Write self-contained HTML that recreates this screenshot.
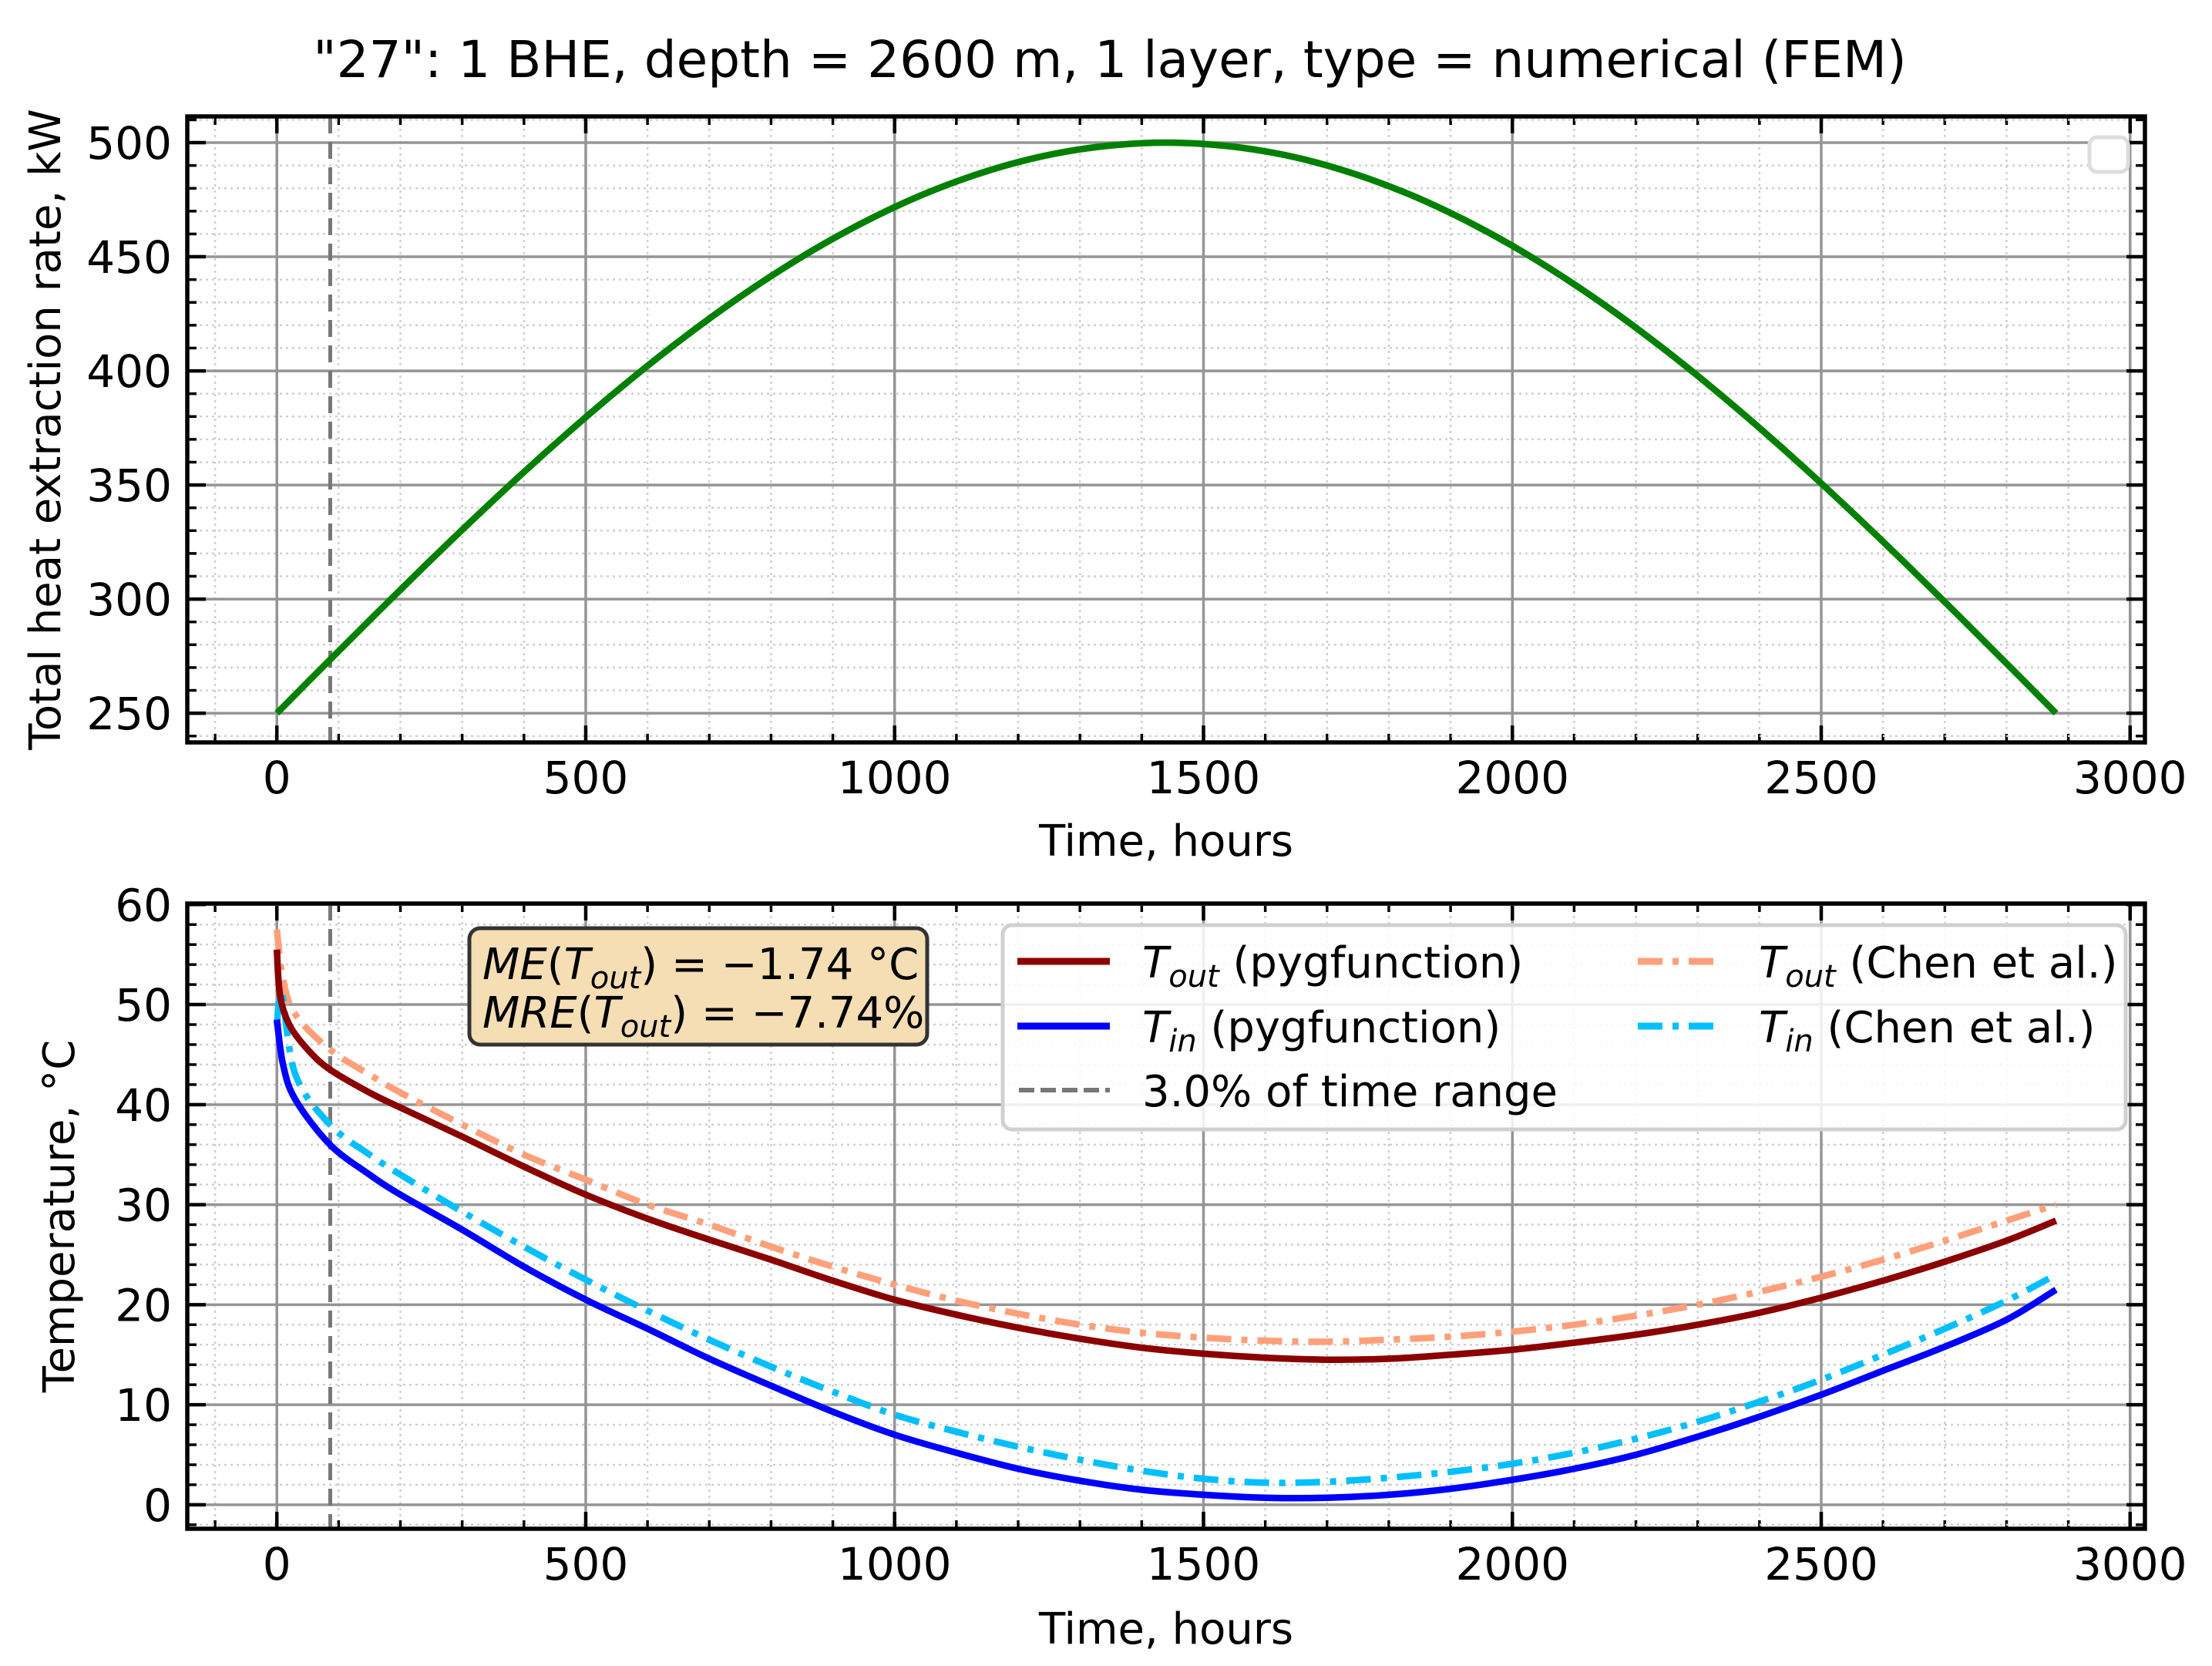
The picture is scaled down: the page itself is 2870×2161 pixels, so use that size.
<!DOCTYPE html>
<html><head><meta charset="utf-8"><style>
html,body{margin:0;padding:0;background:#fff;}
svg{display:block;font-family:"DejaVu Sans","Liberation Sans",sans-serif;}
</style></head><body>
<svg id="fig" width="2870" height="2161" viewBox="0 0 2870 2161" xmlns="http://www.w3.org/2000/svg">
<rect width="2870" height="2161" fill="#fff"/>
<text x="1440" y="100" font-size="66" text-anchor="middle">"27": 1 BHE, depth = 2600 m, 1 layer, type = numerical (FEM)</text>
<g id="top"></g>
<g id="bot"></g>
</svg>
<script>
const NS='http://www.w3.org/2000/svg';
// ---- data ----
const qTimes=[0,80,160,240,320,400,480,560,640,720,800,880,960,1040,1120,1200,1280,1360,1440,1520,1600,1680,1760,1840,1920,2000,2080,2160,2240,2320,2400,2480,2560,2640,2720,2800,2880];
const qValues=[250,271.8,293.4,314.7,335.5,355.7,375,393.4,410.7,426.8,441.5,454.8,466.5,476.6,484.9,491.5,496.2,499.0,500,499.0,496.2,491.5,484.9,476.6,466.5,454.8,441.5,426.8,410.7,393.4,375,355.7,335.5,314.7,293.4,271.8,250];
const toutTimes=[0,5,20,50,86,150,200,300,400,500,600,700,800,900,1000,1100,1200,1300,1400,1500,1600,1700,1800,1900,2000,2100,2200,2300,2400,2500,2600,2700,2800,2880];
const toutPyg=[55.5,51,48,45.5,43.5,41.2,39.7,36.8,33.8,31,28.6,26.5,24.5,22.4,20.5,19,17.7,16.6,15.7,15.1,14.7,14.5,14.6,15,15.5,16.2,17,18,19.2,20.7,22.4,24.3,26.4,28.4];
const toutChenTimes=[0,10,30,86,150,200,300,400,500,600,700,800,900,1000,1100,1200,1300,1400,1500,1600,1700,1800,1900,2000,2100,2200,2300,2400,2500,2600,2700,2800,2880];
const toutChen=[57.5,52.5,49,45.5,43,41.2,38,35,32.5,30,28,25.8,23.8,22,20.4,19.1,18,17.2,16.7,16.4,16.3,16.5,16.8,17.3,18,18.9,20,21.3,22.8,24.5,26.4,28.4,30];
const tinTimes=[0,10,30,86,150,200,300,400,500,600,700,800,900,1000,1100,1200,1300,1400,1500,1600,1700,1800,1900,2000,2100,2200,2300,2400,2500,2600,2700,2800,2880];
const tinPyg=[48.5,44,40.5,36,33,31,27.5,23.8,20.5,17.6,14.6,11.9,9.3,7,5.2,3.6,2.4,1.5,1,0.7,0.7,1,1.6,2.5,3.6,5,6.8,8.8,11,13.4,15.8,18.5,21.5];
const tinChenTimes=[0,8,30,86,150,200,300,400,500,600,700,800,900,1000,1100,1200,1300,1400,1500,1600,1700,1800,1900,2000,2100,2200,2300,2400,2500,2600,2700,2800,2880];
const tinChen=[48,51,43,38,35,33,29.3,25.8,22.5,19.4,16.5,13.8,11.3,9,7.3,5.8,4.5,3.4,2.6,2.2,2.3,2.7,3.3,4.1,5.2,6.6,8.3,10.3,12.5,15,17.6,20.4,23];
const xTicks=[0,500,1000,1500,2000,2500,3000];
const qTicks=[250,300,350,400,450,500];
const tTicks=[0,10,20,30,40,50,60];
const markerTime=86.4;

function mk(tag,attrs,parent){const e=document.createElementNS(NS,tag);for(const k in attrs)e.setAttribute(k,attrs[k]);parent.appendChild(e);return e;}
const X0=243,X1=2783,xmin=-145,xmax=3024;
const sx=v=>X0+(v-xmin)/(xmax-xmin)*(X1-X0);
function smoothPath(pts){let d='M'+pts[0][0]+','+pts[0][1];for(let i=0;i<pts.length-1;i++){const p0=pts[Math.max(0,i-1)],p1=pts[i],p2=pts[i+1],p3=pts[Math.min(pts.length-1,i+2)];const c1=[p1[0]+(p2[0]-p0[0])/6,p1[1]+(p2[1]-p0[1])/6],c2=[p2[0]-(p3[0]-p1[0])/6,p2[1]-(p3[1]-p1[1])/6];d+=' C'+c1[0]+','+c1[1]+' '+c2[0]+','+c2[1]+' '+p2[0]+','+p2[1];}return d;}

function panel(g,Y0,Y1,ymin,ymax,yTicks,yMinorStep,xLabelY,yLabel,yLabelX){
  const sy=v=>Y1-(v-ymin)/(ymax-ymin)*(Y1-Y0);
  for(let v=-100;v<=3000;v+=100){if(v%500===0)continue;const x=sx(v);if(x<=X0||x>=X1)continue;
    const l=mk('line',{x1:x,x2:x,y1:Y0,y2:Y1,stroke:'#d0d0d0','stroke-width':2.5,'stroke-dasharray':'3,5'},g);
    
    
    mk('line',{x1:x,x2:x,y1:Y1,y2:Y1-11,stroke:'#000','stroke-width':3.5},g);
    mk('line',{x1:x,x2:x,y1:Y0,y2:Y0+11,stroke:'#000','stroke-width':3.5},g);}
  for(let v=Math.ceil(ymin/yMinorStep)*yMinorStep;v<=ymax;v+=yMinorStep){if(yTicks.includes(Math.round(v*100)/100))continue;const y=sy(v);
    const l=mk('line',{x1:X0,x2:X1,y1:y,y2:y,stroke:'#d0d0d0','stroke-width':2.5,'stroke-dasharray':'3,5'},g);
    
    
    mk('line',{x1:X0,x2:X0+12,y1:y,y2:y,stroke:'#000','stroke-width':3.5},g);
    mk('line',{x1:X1,x2:X1-12,y1:y,y2:y,stroke:'#000','stroke-width':3.5},g);}
  xTicks.forEach(v=>{const x=sx(v);
    const l=mk('line',{x1:x,x2:x,y1:Y0,y2:Y1,stroke:'#959595','stroke-width':3.5},g);
    
    
    mk('line',{x1:x,x2:x,y1:Y1,y2:Y1-22,stroke:'#000','stroke-width':4.5},g);
    mk('line',{x1:x,x2:x,y1:Y0,y2:Y0+22,stroke:'#000','stroke-width':4.5},g);
    const t=mk('text',{x:x,y:Y1+66,'font-size':58,'text-anchor':'middle'},g);t.textContent=v;
    
    });
  yTicks.forEach(v=>{const y=sy(v);
    const l=mk('line',{x1:X0,x2:X1,y1:y,y2:y,stroke:'#959595','stroke-width':3.5},g);
    
    
    mk('line',{x1:X0,x2:X0+24,y1:y,y2:y,stroke:'#000','stroke-width':4.5},g);
    mk('line',{x1:X1,x2:X1-24,y1:y,y2:y,stroke:'#000','stroke-width':4.5},g);
    const t=mk('text',{x:X0-20,y:y+21,'font-size':58,'text-anchor':'end'},g);t.textContent=v;
    
    });
  const vl=mk('line',{x1:sx(markerTime),x2:sx(markerTime),y1:Y0,y2:Y1,stroke:'#777','stroke-width':5,'stroke-dasharray':'22,11'},g);
  
  
  const xl=mk('text',{x:1513,y:xLabelY,'font-size':56,'text-anchor':'middle'},g);xl.textContent='Time, hours';
  
  
  const yc=(Y0+Y1)/2;
  const yl=mk('text',{x:yLabelX,y:yc,'font-size':56,'text-anchor':'middle',transform:'rotate(-90 '+yLabelX+' '+yc+')'},g);yl.textContent=yLabel;
  
  
  return sy;
}
function spine(g,Y0,Y1){const r=mk('rect',{x:X0,y:Y0,width:X1-X0,height:Y1-Y0,fill:'none',stroke:'#000','stroke-width':5.5},g);
  
  }
function series(g,times,vals,sy,color,dash,name){const pts=times.map((t,i)=>[sx(t),sy(vals[i])]);
  const p=mk('path',{d:smoothPath(pts),fill:'none',stroke:color,'stroke-width':8.5,'stroke-linejoin':'round'},g);
  if(dash)p.setAttribute('stroke-dasharray',dash);
  
  }

const gt=document.getElementById('top');
const syq=panel(gt,151,963,237.2,511.5,qTicks,10,1110,'Total heat extraction rate, kW',78);
series(gt,qTimes,qValues,syq,'#008000',null,'heat-rate-line');
spine(gt,151,963);
const eb=mk('rect',{x:2711,y:178,width:50,height:45,rx:10,fill:'#fff',stroke:'#ddd','stroke-width':5},gt);



const gb=document.getElementById('bot');
const syt=panel(gb,1172,1983,-2.4,60.1,tTicks,2,2132,'Temperature, °C',96);
series(gb,toutChenTimes,toutChen,syt,'#ffa07a','32,13,8,13','tout-chen-line');
series(gb,tinChenTimes,tinChen,syt,'#00bfff','32,13,8,13','tin-chen-line');
series(gb,toutTimes,toutPyg,syt,'#8b0000',null,'tout-pygfunction-line');
series(gb,tinTimes,tinPyg,syt,'#0000ff',null,'tin-pygfunction-line');
spine(gb,1172,1983);
</script>
<div style="position:absolute;left:0;top:0;width:2870px;height:2161px;pointer-events:none">
<svg width="2870" height="2161" style="position:absolute;left:0;top:0">
 <g>
  <rect x="609" y="1204" width="594" height="151" rx="14" fill="#f5deb3" stroke="#333" stroke-width="5"/>
  <text x="626" y="1270" font-size="56" font-family="DejaVu Sans, Liberation Sans, sans-serif"><tspan font-style="italic">ME</tspan>(<tspan font-style="italic">T</tspan><tspan font-style="italic" font-size="40" dy="12">out</tspan><tspan dy="-12">) = −1.74 °C</tspan></text>
  <text x="626" y="1333" font-size="56" font-family="DejaVu Sans, Liberation Sans, sans-serif"><tspan font-style="italic">MRE</tspan>(<tspan font-style="italic">T</tspan><tspan font-style="italic" font-size="40" dy="12">out</tspan><tspan dy="-12">) = −7.74%</tspan></text>
 </g>
 <g font-family="DejaVu Sans, Liberation Sans, sans-serif" font-size="56">
  <rect x="1301" y="1200" width="1457" height="265" rx="12" fill="#fff" fill-opacity="0.85" stroke="#d0d0d0" stroke-width="5"/>
  <g>
   <line x1="1320" x2="1440" y1="1247" y2="1247" stroke="#8b0000" stroke-width="9"/>
   <text x="1482" y="1268"><tspan font-style="italic">T</tspan><tspan font-style="italic" font-size="40" dy="12">out</tspan><tspan dy="-12"> (pygfunction)</tspan></text>
  </g>
  <g>
   <line x1="1320" x2="1440" y1="1331" y2="1331" stroke="#0000ff" stroke-width="9"/>
   <text x="1482" y="1352"><tspan font-style="italic">T</tspan><tspan font-style="italic" font-size="40" dy="12">in</tspan><tspan dy="-12"> (pygfunction)</tspan></text>
  </g>
  <g>
   <line x1="1322" x2="1440" y1="1414" y2="1414" stroke="#777" stroke-width="6" stroke-dasharray="20,8"/>
   <text x="1482" y="1435">3.0% of time range</text>
  </g>
  <g>
   <line x1="2125" x2="2235" y1="1247" y2="1247" stroke="#ffa07a" stroke-width="9" stroke-dasharray="32,13,8,13"/>
   <text x="2282" y="1268"><tspan font-style="italic">T</tspan><tspan font-style="italic" font-size="40" dy="12">out</tspan><tspan dy="-12"> (Chen et al.)</tspan></text>
  </g>
  <g>
   <line x1="2125" x2="2235" y1="1331" y2="1331" stroke="#00bfff" stroke-width="9" stroke-dasharray="32,13,8,13"/>
   <text x="2282" y="1352"><tspan font-style="italic">T</tspan><tspan font-style="italic" font-size="40" dy="12">in</tspan><tspan dy="-12"> (Chen et al.)</tspan></text>
  </g>
 </g>
</svg>
</div>
</body></html>
